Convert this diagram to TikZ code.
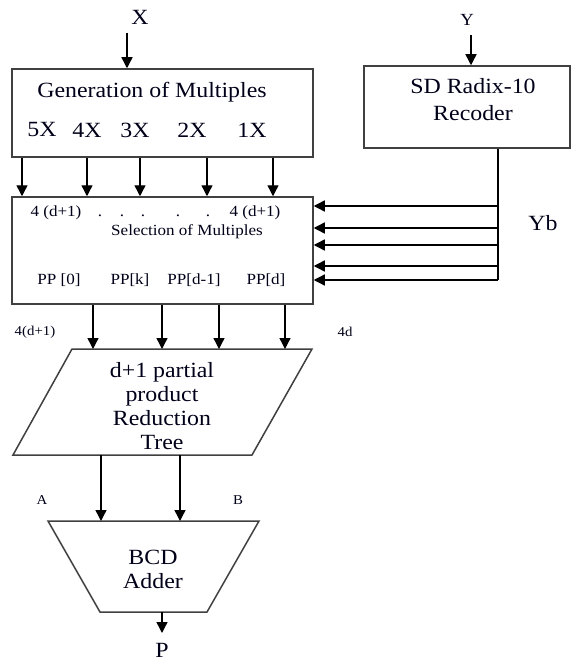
\documentclass[tikz,border=0pt]{standalone}
\usepackage{fontspec}
\setmainfont{Liberation Serif}[FakeStretch=1.1]
\usetikzlibrary{arrows.meta}
\tikzset{
  blk/.style={draw=black!75, line width=1.5pt, inner sep=0pt},
  edge/.style={draw=black!75, line width=1.5pt, line join=miter},
  arr/.style={-{Triangle[length=11pt,width=11pt]}, line width=1.4pt},
  wire/.style={line width=1.4pt},
  big/.style={font=\fontsize{21.7}{24}\selectfont, inner sep=0pt, text=black!90!blue},
  mid/.style={font=\fontsize{15.5}{18}\selectfont, inner sep=0pt, text=black!90!blue},
  sml/.style={font=\fontsize{13.5}{15}\selectfont, inner sep=0pt, text=black!90!blue},
}
\begin{document}
\begin{tikzpicture}[x=1pt,y=-1pt]
\useasboundingbox[fill=white] (0,0) rectangle (572,663);

% --- Generation of multiples
\node[blk, minimum width=301pt, minimum height=88pt] (gen) at (162.5,113) {};
\node[big] (gentitle) at (152,92) {Generation of Multiples};
\node[big] (m5) at (42,130) {5X};
\node[big] (m4) at (87,130) {4X};
\node[big] (m3) at (135,130) {3X};
\node[big] (m2) at (192,130) {2X};
\node[big] (m1) at (252,130) {1X};

\node[big] (xlab) at (140,17) {X};
\coordinate (xin) at (127,33);
\draw[arr] (xin) -- (xin |- gen.north);

% --- Recoder
\node[blk, minimum width=206pt, minimum height=82pt] (rec) at (467,107) {};
\node[big] (rec1) at (473,86) {SD Radix-10};
\node[big] (rec2) at (473,113) {Recoder};
\node[font=\fontsize{17}{18}\selectfont, inner sep=0pt, text=black!90!blue] (ylab) at (467,20) {Y};
\coordinate (yin) at (471,35);
\draw[arr] (yin) -- (yin |- rec.north);

% --- Selection of multiples
\node[blk, minimum width=301pt, minimum height=107pt] (sel) at (162.5,250.5) {};
\node[mid] (s41) at (56,213) {4 (d+1)};
\node[mid] (s42) at (255,213) {4 (d+1)};
\foreach \dx [count=\i] in {100,122,143,178,208}
  \node[mid] (dot\i) at (\dx,216) {.};
\node[mid] (seltitle) at (187,232) {Selection of Multiples};
\node[mid] (pp0) at (59,280) {PP [0]};
\node[mid] (ppk) at (130,280) {PP[k]};
\node[mid] (ppd1) at (194,280) {PP[d-1]};
\node[mid] (ppd) at (266,280) {PP[d]};

\foreach \x in {22,87,140,207,273}
  \draw[arr] (\x,0 |- gen.south) -- (\x,0 |- sel.north);

% --- Yb bus
\coordinate (ybus) at (498,280);
\draw[wire] (ybus |- rec.south) -- (ybus);
\foreach \y in {206,228,245,266,280}
  \draw[arr] (ybus |- 0,\y) -- (sel.east |- 0,\y);
\node[big] (yb) at (543,223) {Yb};

% --- Reduction tree (parallelogram)
\coordinate (ttl) at (72,349);
\coordinate (ttr) at (312,349);
\coordinate (tbr) at (252,455);
\coordinate (tbl) at (13,455);
\draw[edge] (ttl) -- (ttr) -- (tbr) -- (tbl) -- cycle;
\node[big, align=center] (tree) at (162,406) {d+1 partial\\product\\Reduction\\Tree};
\node[sml] (lab41) at (35,332) {4(d+1)};
\node[sml] (lab4d) at (345,332) {4d};
\foreach \x in {93,162,219,285}
  \draw[arr] (\x,0 |- sel.south) -- (\x,0 |- ttl);

% --- BCD adder (trapezoid)
\coordinate (atl) at (48,521);
\coordinate (atr) at (259,521);
\coordinate (abr) at (207,612);
\coordinate (abl) at (100,612);
\draw[edge] (atl) -- (atr) -- (abr) -- (abl) -- cycle;
\node[big, align=center] (adder) at (153,569) {BCD\\Adder};
\node[sml] (alab) at (42,500) {A};
\node[sml] (blab) at (238,500) {B};
\foreach \x in {101,180}
  \draw[arr] (\x,0 |- tbl) -- (\x,0 |- atl);

\coordinate (pout) at (162,633);
\draw[arr] (pout |- abl) -- (pout);
\node[big] (plab) at (162,650) {P};
\end{tikzpicture}
\end{document}
